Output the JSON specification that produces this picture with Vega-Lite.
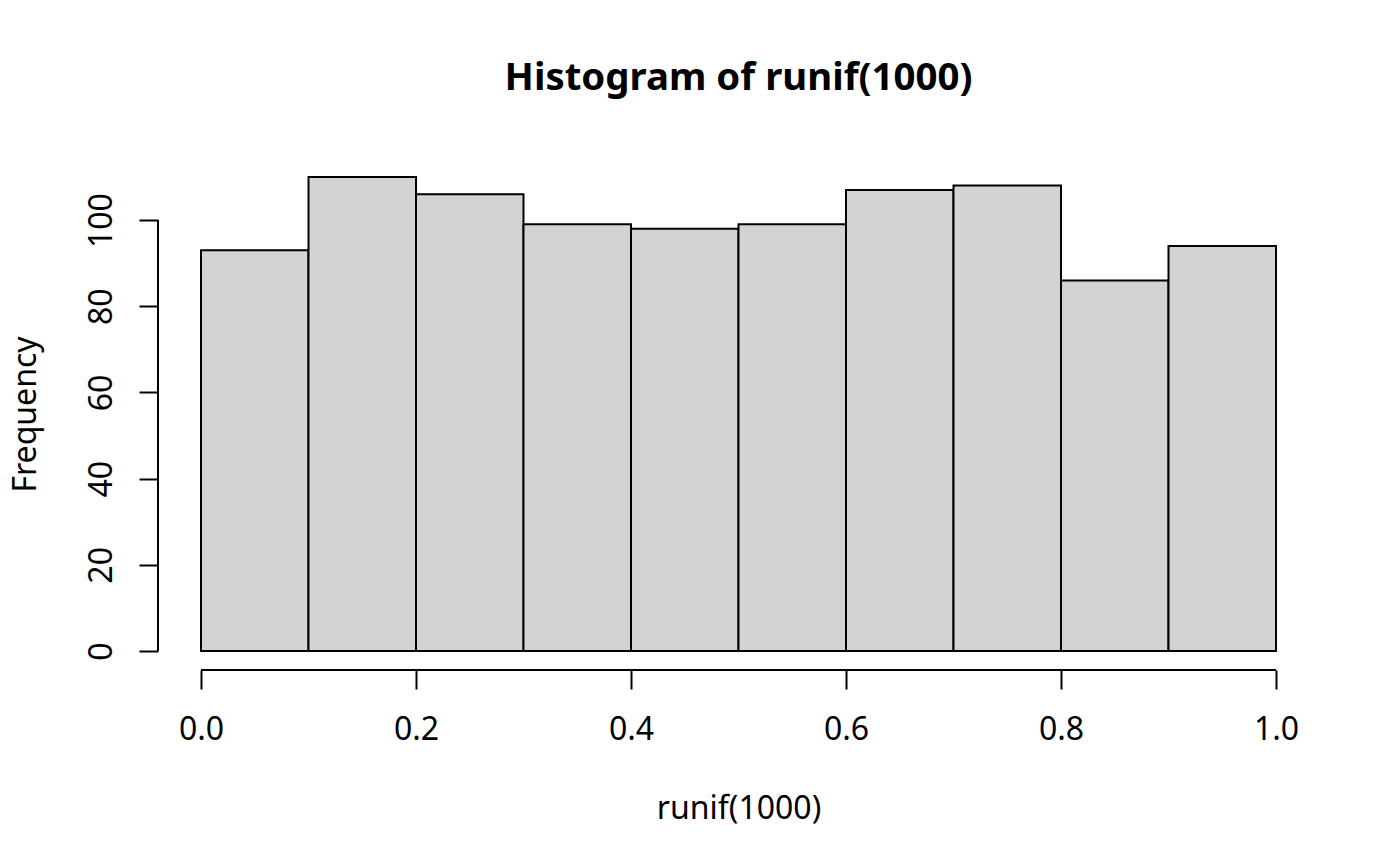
{
  "$schema": "https://vega.github.io/schema/vega-lite/v6.json",
  "width": 1161,
  "height": 512,
  "autosize": {"type": "none"},
  "padding": {"left": 158, "top": 158, "right": 81, "bottom": 196},
  "background": "white",
  "title": {
    "text": "Histogram of runif(1000)",
    "font": "Noto Sans",
    "fontSize": 38.4,
    "fontWeight": "bold",
    "color": "black",
    "anchor": "middle",
    "frame": "group",
    "baseline": "alphabetic",
    "offset": 30
  },
  "config": {
    "view": {"stroke": null},
    "axis": {
      "grid": false,
      "domain": false,
      "labelFont": "Noto Sans",
      "labelFontSize": 32,
      "labelColor": "black",
      "titleFont": "Noto Sans",
      "titleFontSize": 32,
      "titleFontWeight": "normal",
      "titleColor": "black",
      "tickColor": "black",
      "tickWidth": 2,
      "tickSize": 19,
      "labelFlush": false,
      "labelOverlap": false
    }
  },
  "layer": [
    {
      "data": {
        "values": [
          {"bin_start": 0.0, "bin_end": 0.1, "count": 93},
          {"bin_start": 0.1, "bin_end": 0.2, "count": 110},
          {"bin_start": 0.2, "bin_end": 0.3, "count": 106},
          {"bin_start": 0.3, "bin_end": 0.4, "count": 99},
          {"bin_start": 0.4, "bin_end": 0.5, "count": 98},
          {"bin_start": 0.5, "bin_end": 0.6, "count": 99},
          {"bin_start": 0.6, "bin_end": 0.7, "count": 107},
          {"bin_start": 0.7, "bin_end": 0.8, "count": 108},
          {"bin_start": 0.8, "bin_end": 0.9, "count": 86},
          {"bin_start": 0.9, "bin_end": 1.0, "count": 94}
        ]
      },
      "mark": {"type": "rect", "fill": "#D3D3D3", "stroke": "black", "strokeWidth": 2},
      "encoding": {
        "x": {
          "field": "bin_start",
          "type": "quantitative",
          "scale": {"domain": [-0.04, 1.04], "nice": false, "zero": false, "padding": 0},
          "axis": {
            "title": "runif(1000)",
            "values": [0, 0.2, 0.4, 0.6, 0.8, 1.0],
            "format": ".1f",
            "labelBaseline": "alphabetic",
            "labelAlign": "center",
            "labelPadding": 50,
            "titleX": 580.5,
            "titleY": 148,
            "titleAlign": "center",
            "titleBaseline": "alphabetic"
          }
        },
        "x2": {"field": "bin_end"},
        "y": {
          "field": "count",
          "type": "quantitative",
          "scale": {"domain": [-4.4, 114.4], "nice": false, "zero": false},
          "axis": {
            "title": "Frequency",
            "values": [0, 20, 40, 60, 80, 100],
            "labelAngle": 270,
            "labelAlign": "center",
            "labelBaseline": "alphabetic",
            "labelPadding": 28,
            "titleAngle": 270,
            "titleX": -123,
            "titleY": 256,
            "titleAlign": "center",
            "titleBaseline": "alphabetic"
          }
        },
        "y2": {"datum": 0}
      }
    },
    {
      "data": {"values": [{}]},
      "mark": {"type": "rule", "color": "black", "strokeWidth": 2},
      "encoding": {
        "x": {"datum": 0},
        "x2": {"datum": 1},
        "y": {"datum": -4.4}
      }
    },
    {
      "data": {"values": [{}]},
      "mark": {"type": "rule", "color": "black", "strokeWidth": 2},
      "encoding": {
        "x": {"datum": -0.04},
        "y": {"datum": 0},
        "y2": {"datum": 100}
      }
    }
  ]
}
